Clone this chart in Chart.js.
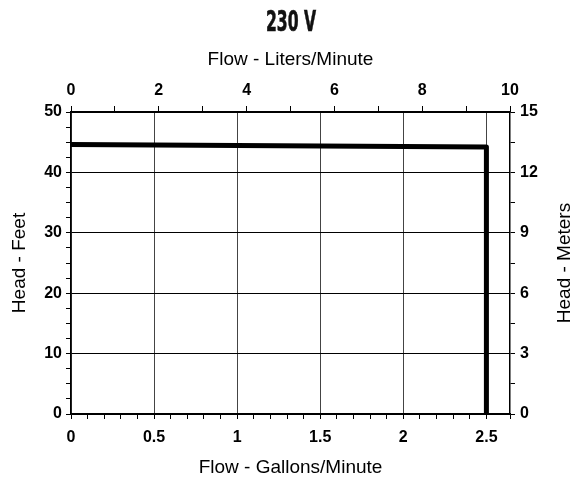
<!DOCTYPE html>
<html>
<head>
<meta charset="utf-8">
<title>230 V</title>
<script src="https://cdn.jsdelivr.net/npm/chart.js@4/dist/chart.umd.min.js"></script>
<style>
  body { margin: 0; background: #fff; }
  #wrap { position: relative; width: 574px; height: 481px; }
  #title {
    position: absolute;
    left: 4px;
    top: 8px;
    width: 574px;
    text-align: center;
    font-family: 'DejaVu Sans Condensed', 'DejaVu Sans', sans-serif;
    font-weight: bold;
    font-size: 28px;
    line-height: 28px;
    color: #111;
    transform: scaleX(0.62);
    transform-origin: 50% 0;
    -webkit-text-stroke: 0.6px #111;
  }
  canvas { position: absolute; left: 0; top: 0; }
</style>
</head>
<body>
<div id="wrap">
  <canvas id="pumpChart" width="574" height="481"></canvas>
  <div id="title">230 V</div>
</div>
<script>
// pump curve: flow in gallons/minute vs head in feet
const flowGpm = [0, 2.5, 2.5];
const headFeet = [44.6, 44.2, 0];

// axis ranges and label steps
const litersMax = 10;
const gpmPerLiter = 1 / 3.785;
const gpmMax = litersMax * gpmPerLiter;
const feetMax = 50;
const metersMax = 15;

const gpmLabelStep = 0.5;
const litersLabelStep = 2;
const feetLabelStep = 10;
const metersLabelStep = 3;

const FONT = "'Liberation Sans', Arial, sans-serif";

const isMultiple = (v, step) => Math.abs(v / step - Math.round(v / step)) < 1e-6;

const tickFont = { family: FONT, size: 16, weight: 'bold' };
const titleFont = { family: FONT, size: 19, lineHeight: 1 };

// right axis title reads bottom-to-top like the left one
const rightTitle = {
  id: 'rightTitle',
  afterDraw(chart) {
    const { ctx, chartArea } = chart;
    ctx.save();
    ctx.translate(565, (chartArea.top + chartArea.bottom) / 2);
    ctx.rotate(-Math.PI / 2);
    ctx.font = `${titleFont.size}px ${FONT}`;
    ctx.fillStyle = '#000';
    ctx.textAlign = 'center';
    ctx.textBaseline = 'middle';
    ctx.fillText('Head - Meters', 0, 0);
    ctx.restore();
  },
};

const ctx = document.getElementById('pumpChart').getContext('2d');
new Chart(ctx, {
  type: 'line',
  data: {
    datasets: [
      {
        data: flowGpm.map((x, i) => ({ x: x, y: headFeet[i] })),
        borderColor: '#000',
        borderWidth: 5,
        borderJoinStyle: 'round',
        pointRadius: 0,
        tension: 0,
        fill: false,
        xAxisID: 'x',
        yAxisID: 'y',
      },
    ],
  },
  options: {
    responsive: false,
    devicePixelRatio: 1,
    animation: false,
    layout: { padding: 0 },
    plugins: {
      legend: { display: false },
      tooltip: { enabled: false },
    },
    scales: {
      x: {
        type: 'linear',
        position: 'bottom',
        min: 0,
        max: gpmMax,
        afterFit: (scale) => { scale.height = 67; },
        ticks: {
          stepSize: 0.1,
          autoSkip: false,
          maxRotation: 0,
          padding: 9,
          color: '#000',
          font: tickFont,
          callback: (v) => (isMultiple(v, gpmLabelStep) ? String(v) : ''),
        },
        grid: {
          tickLength: 5,
          tickColor: '#000',
          color: (c) =>
            c.tick && isMultiple(c.tick.value, gpmLabelStep) ? '#444' : 'rgba(0,0,0,0)',
        },
        border: { color: '#000', width: 1.5 },
        title: {
          display: true,
          text: 'Flow - Gallons/Minute',
          color: '#000',
          font: titleFont,
          padding: { top: 0, bottom: 4 },
        },
      },
      x2: {
        type: 'linear',
        position: 'top',
        min: 0,
        max: litersMax,
        afterFit: (scale) => { scale.height = 112; },
        ticks: {
          stepSize: 1,
          autoSkip: false,
          maxRotation: 0,
          padding: 6,
          color: '#000',
          font: tickFont,
          callback: (v) => (isMultiple(v, litersLabelStep) ? String(v) : ''),
        },
        grid: { drawOnChartArea: false, tickLength: 6, color: '#000' },
        border: { color: '#000', width: 1.5 },
        title: {
          display: true,
          text: 'Flow - Liters/Minute',
          color: '#000',
          font: titleFont,
          padding: { top: 50, bottom: 0 },
        },
      },
      y: {
        type: 'linear',
        position: 'left',
        min: 0,
        max: feetMax,
        afterFit: (scale) => { scale.width = 71; },
        ticks: {
          stepSize: 2.5,
          autoSkip: false,
          padding: 4,
          color: '#000',
          font: tickFont,
          callback: (v) => (isMultiple(v, feetLabelStep) ? String(v) : ''),
        },
        grid: {
          tickLength: 5,
          tickColor: '#000',
          color: (c) =>
            c.tick && isMultiple(c.tick.value, feetLabelStep) ? '#000' : 'rgba(0,0,0,0)',
        },
        border: { color: '#000', width: 1.5 },
        title: {
          display: true,
          text: 'Head - Feet',
          color: '#000',
          font: titleFont,
          padding: { top: 10, bottom: 0 },
        },
      },
      y2: {
        type: 'linear',
        position: 'right',
        min: 0,
        max: metersMax,
        afterFit: (scale) => { scale.width = 64; },
        ticks: {
          stepSize: 1.5,
          autoSkip: false,
          padding: 5,
          color: '#000',
          font: tickFont,
          callback: (v) => (isMultiple(v, metersLabelStep) ? String(v) : ''),
        },
        grid: { drawOnChartArea: false, tickLength: 5, color: '#000' },
        border: { color: '#000', width: 1.5 },
        title: { display: false },
      },
    },
  },
  plugins: [rightTitle],
});
</script>
</body>
</html>
